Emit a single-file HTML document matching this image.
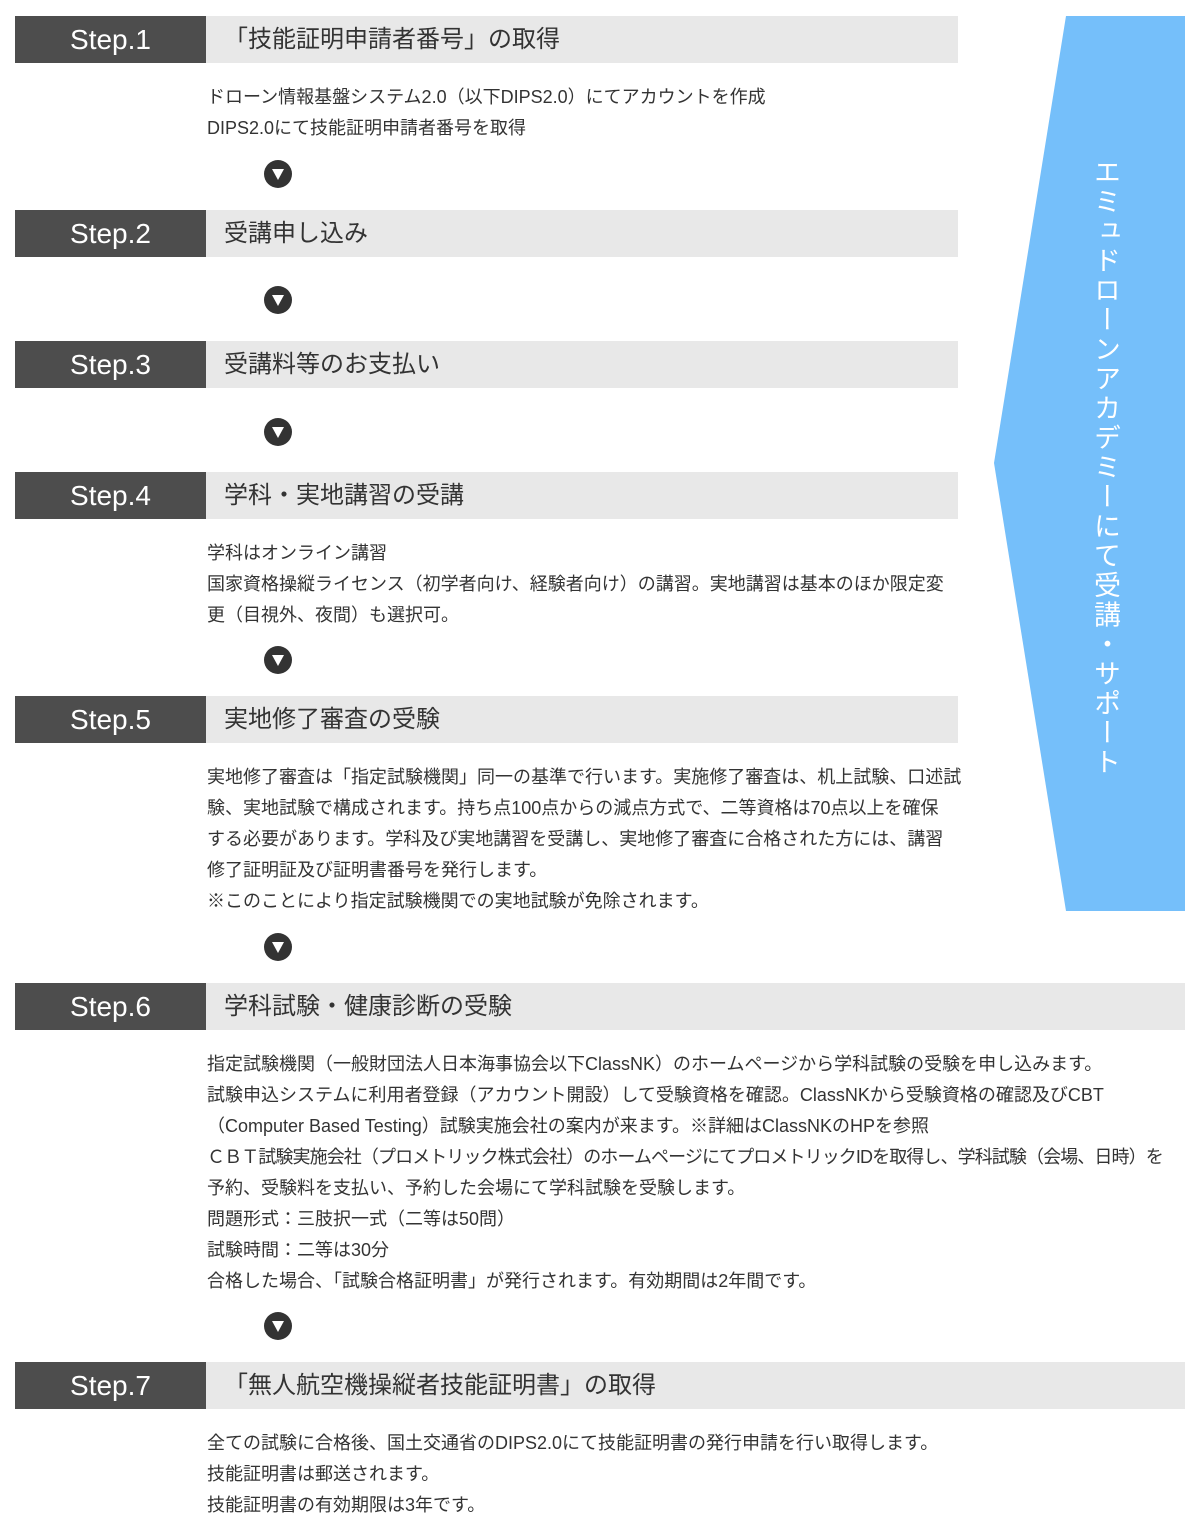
<!DOCTYPE html>
<html><head><meta charset="utf-8"><style>
body{margin:0;width:1201px;height:1536px;background:#fff;position:relative;overflow:hidden;font-family:"Liberation Sans","Noto Sans CJK JP",sans-serif;color:#333}
.d{position:absolute;left:15px;width:191px;height:47px;background:#4d4d4d;color:#fff;font-size:28px;line-height:47px;text-align:center}
.l{position:absolute;left:206px;height:47px;background:#e8e8e8;font-size:24px;line-height:47px;padding-left:18px;box-sizing:border-box;white-space:nowrap;color:#333}
.t{position:absolute;left:207px;font-size:18px;line-height:31px;white-space:nowrap}
.a{position:absolute;left:264px;width:28px;height:28px;border-radius:50%;background:#333}
.a:after{content:"";position:absolute;left:8px;top:9px;border-left:6px solid transparent;border-right:6px solid transparent;border-top:11px solid #fff}
.v{position:absolute;left:1095px;top:158px;width:30px;font-size:27px;letter-spacing:2.5px;color:#fff;writing-mode:vertical-rl;white-space:nowrap}
</style></head><body>
<svg style="position:absolute;left:0;top:0" width="1201" height="1536"><polygon points="1066,16 1185,16 1185,911 1066,911 994,463" fill="#75bffa"/></svg>
<div class="v">エミュドローンアカデミーにて受講・サポート</div>

<div class="d" style="top:16px">Step.1</div><div class="l" style="top:16px;width:752px">「技能証明申請者番号」の取得</div>
<div class="t" style="top:82px">ドローン情報基盤システム2.0（以下DIPS2.0）にてアカウントを作成<br>DIPS2.0にて技能証明申請者番号を取得</div>
<div class="a" style="top:160px"></div>

<div class="d" style="top:210px">Step.2</div><div class="l" style="top:210px;width:752px">受講申し込み</div>
<div class="a" style="top:286px"></div>

<div class="d" style="top:341px">Step.3</div><div class="l" style="top:341px;width:752px">受講料等のお支払い</div>
<div class="a" style="top:418px"></div>

<div class="d" style="top:472px">Step.4</div><div class="l" style="top:472px;width:752px">学科・実地講習の受講</div>
<div class="t" style="top:538px">学科はオンライン講習<br>国家資格操縦ライセンス（初学者向け、経験者向け）の講習。実地講習は基本のほか限定変<br>更（目視外、夜間）も選択可。</div>
<div class="a" style="top:646px"></div>

<div class="d" style="top:696px">Step.5</div><div class="l" style="top:696px;width:752px">実地修了審査の受験</div>
<div class="t" style="top:762px">実地修了審査は「指定試験機関」同一の基準で行います。実施修了審査は、机上試験、口述試<br>験、実地試験で構成されます。持ち点100点からの減点方式で、二等資格は70点以上を確保<br>する必要があります。学科及び実地講習を受講し、実地修了審査に合格された方には、講習<br>修了証明証及び証明書番号を発行します。<br>※このことにより指定試験機関での実地試験が免除されます。</div>
<div class="a" style="top:933px"></div>

<div class="d" style="top:983px">Step.6</div><div class="l" style="top:983px;width:979px">学科試験・健康診断の受験</div>
<div class="t" style="top:1049px">指定試験機関（一般財団法人日本海事協会以下ClassNK）のホームページから学科試験の受験を申し込みます。<br>試験申込システムに利用者登録（アカウント開設）して受験資格を確認。ClassNKから受験資格の確認及びCBT<br>（Computer Based Testing）試験実施会社の案内が来ます。※詳細はClassNKのHPを参照<br><span style="letter-spacing:-0.9px">ＣＢＴ試験実施会社（プロメトリック株式会社）のホームページにてプロメトリックIDを取得し、学科試験（会場、日時）を</span><br>予約、受験料を支払い、予約した会場にて学科試験を受験します。<br>問題形式：三肢択一式（二等は50問）<br>試験時間：二等は30分<br>合格した場合、「試験合格証明書」が発行されます。有効期間は2年間です。</div>
<div class="a" style="top:1312px"></div>

<div class="d" style="top:1362px">Step.7</div><div class="l" style="top:1362px;width:979px">「無人航空機操縦者技能証明書」の取得</div>
<div class="t" style="top:1428px">全ての試験に合格後、国土交通省のDIPS2.0にて技能証明書の発行申請を行い取得します。<br>技能証明書は郵送されます。<br>技能証明書の有効期限は3年です。</div>
</body></html>
